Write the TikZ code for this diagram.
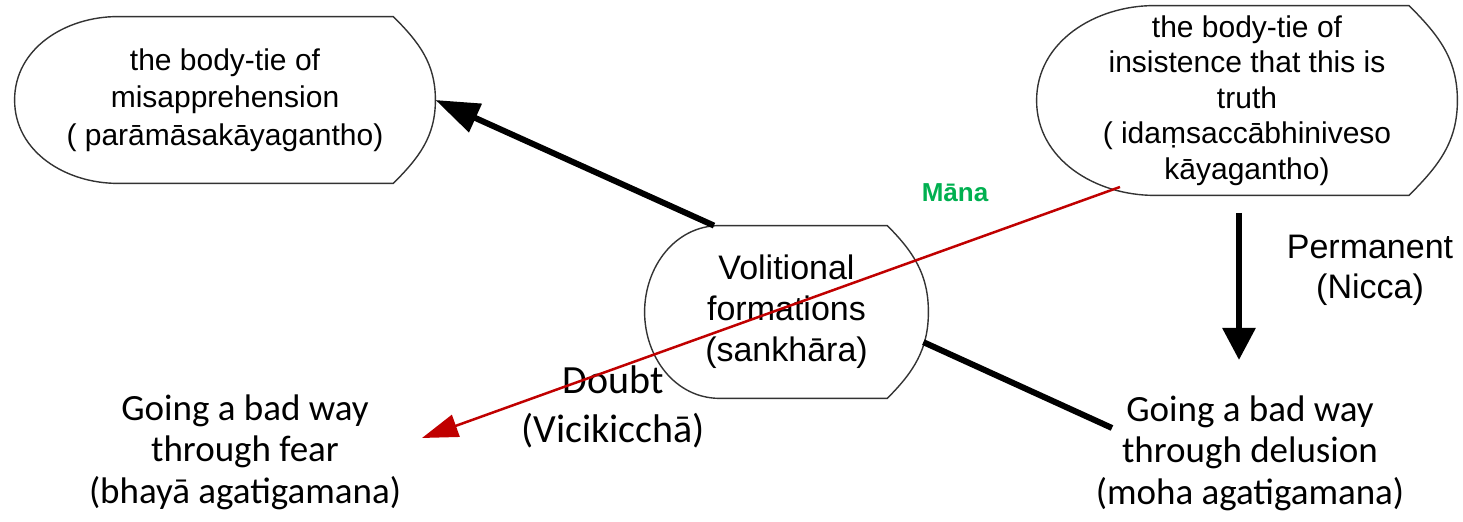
\documentclass[tikz,border=0pt]{standalone}
\usepackage{fontspec}
\setmainfont{Liberation Sans}
\newfontfamily\calfont{Carlito}
\usetikzlibrary{arrows.meta,calc}
\definecolor{arrred}{RGB}{192,0,0}
\definecolor{managreen}{RGB}{0,176,80}
\newcommand\blobshape[3]{%
  \draw[blobline] ($(#1.north west)!#2!(#1.north east)$) -- ($(#1.north west)!#3!(#1.north east)$)
    to[out=-45,in=90] (#1.east) to[out=-90,in=45] ($(#1.south west)!#3!(#1.south east)$)
    -- ($(#1.south west)!#2!(#1.south east)$) to[out=180,in=-90] (#1.west)
    to[out=90,in=180] ($(#1.north west)!#2!(#1.north east)$) -- cycle;}
\begin{document}
\begin{tikzpicture}[x=0.5pt,y=0.5pt,
  blobline/.style={draw=black!80, line width=0.7pt},
  blobnode/.style={rectangle, inner sep=0pt, align=center},
  textnode/.style={align=center, inner sep=0pt},
  thickline/.style={draw=black, line width=3pt},
  redline/.style={draw=arrred, line width=1.25pt}]
\useasboundingbox (0,0) rectangle (1463,522);
\node[blobnode, minimum width=210pt, minimum height=83pt, font=\fontsize{15}{18.75}\selectfont] (n1) at (225,422)
  {the body-tie of\\misapprehension\\( parāmāsakāyagantho)};
\node[blobnode, minimum width=210pt, minimum height=94.5pt, font=\fontsize{15}{17.75}\selectfont] (n2) at (1247,421.5)
  {the body-tie of\\insistence that this is\\truth\\( idaṃsaccābhiniveso\\kāyagantho)};
\node[blobnode, minimum width=141.5pt, minimum height=86pt, font=\fontsize{17}{20.5}\selectfont] (n3) at (786.5,210)
  {Volitional\\formations\\(sankhāra)};
\blobshape{n1}{0.245}{0.90}
\blobshape{n2}{0.28}{0.885}
\blobshape{n3}{0.265}{0.855}
\node[textnode, font=\calfont\fontsize{18.5}{20.75}\selectfont] (t1) at (245,70)
  {Going a bad way\\through fear\\(bhayā agatigamana)};
\node[textnode, font=\calfont\fontsize{18.5}{20.75}\selectfont] (t2) at (1250,69)
  {Going a bad way\\through delusion\\(moha agatigamana)};
\node[textnode, font=\fontsize{17}{20}\selectfont] (perm) at (1370,252) {Permanent\\(Nicca)};
\node[textnode, font=\calfont\fontsize{20}{24.5}\selectfont] (doubt) at (613,115) {Doubt\\(Vicikicchā)};
\node[textnode, font=\bfseries\fontsize{13}{15}\selectfont, text=managreen] (mana) at (955,329) {Māna};
\draw[thickline, -{Triangle[length=22pt,width=15pt]}] (n3.130) -- (n1.east);
\draw[thickline] ([xshift=-2.5pt]n3.-12) -- ($(t2.center)+(-69pt,12.5pt)$);
\draw[thickline, -{Triangle[length=16pt,width=16pt]}] ($(n2.center)+(-4pt,-56.25pt)$) -- ($(t2.center)+(-5.5pt,46.5pt)$);
\draw[redline, -{Triangle[length=18pt,width=11.5pt]}] ($(n2.center)+(-63.5pt,-43.25pt)$) -- ($(t1.center)+(88.5pt,7pt)$);
\end{tikzpicture}
\end{document}
